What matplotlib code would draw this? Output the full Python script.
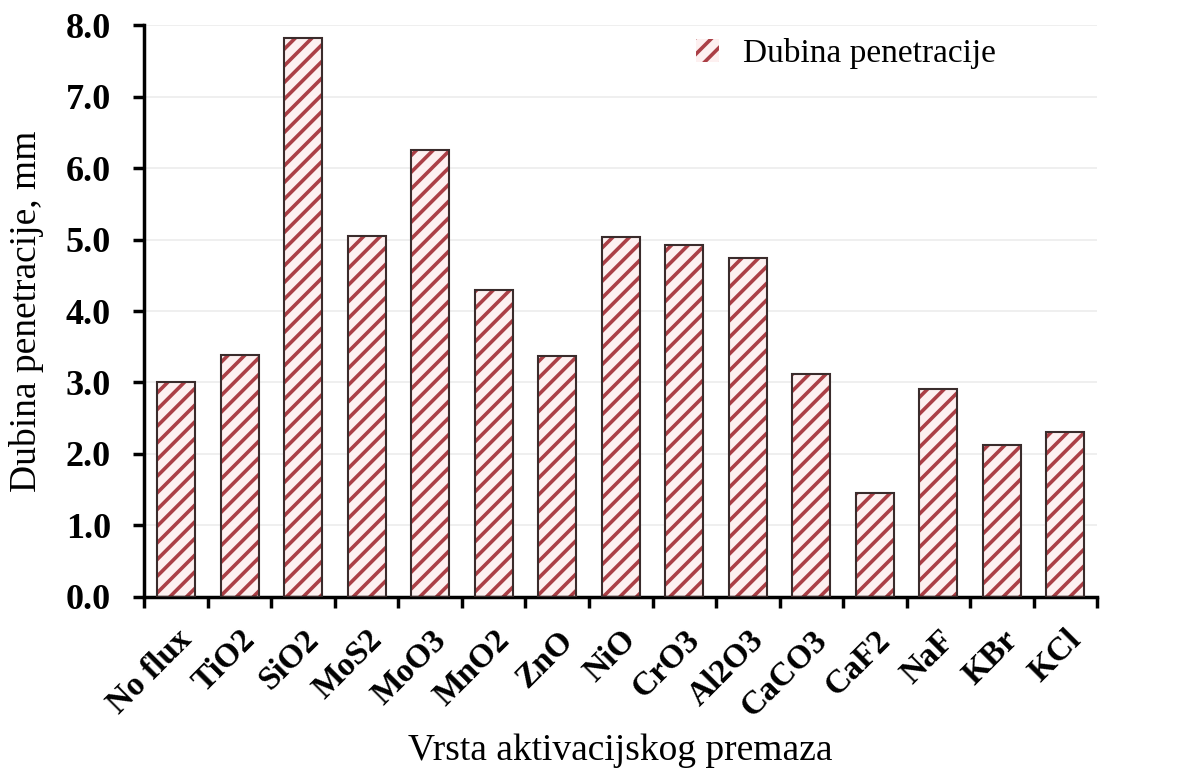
import matplotlib
matplotlib.use('Agg')
import matplotlib.pyplot as plt
from matplotlib.ticker import MultipleLocator, FixedLocator
import numpy as np

categories = ['No flux', 'TiO2', 'SiO2', 'MoS2', 'MoO3', 'MnO2', 'ZnO', 'NiO',
              'CrO3', 'Al2O3', 'CaCO3', 'CaF2', 'NaF', 'KBr', 'KCl']
depth = [3.0, 3.38, 7.82, 5.05, 6.25, 4.29, 3.37, 5.03,
         4.92, 4.74, 3.12, 1.45, 2.91, 2.13, 2.31]

plt.rcParams['font.family'] = ['Liberation Serif', 'DejaVu Serif']
plt.rcParams['hatch.linewidth'] = 2.6

fig = plt.figure(figsize=(12.03, 7.69), dpi=100)
ax = fig.add_axes([0.12, 0.224, 0.792, 0.743])

x = np.arange(len(categories))
ax.bar(x, depth, width=0.6, color='#fdf0f0', edgecolor='#ab3f46',
       hatch='//', linewidth=0, label='Dubina penetracije', zorder=2)
ax.bar(x, depth, width=0.6, fill=False, edgecolor='#3a2c2c', linewidth=1.5, zorder=3)

ax.set_xlim(-0.5, len(categories) - 0.5)
ax.set_ylim(0, 8)
ax.yaxis.set_major_locator(MultipleLocator(1))
ax.set_yticklabels([f'{v:.1f}' for v in ax.get_yticks()], fontsize=26, fontweight='bold')
ax.grid(axis='y', color='#ececec', linewidth=1.2, zorder=0)

ax.set_xticks(x)
ax.set_xticklabels(categories, rotation=45, ha='right', rotation_mode='anchor',
                   fontsize=24, fontweight='bold')
ax.tick_params(axis='x', which='major', length=0, pad=20)
ax.xaxis.set_minor_locator(FixedLocator(np.arange(-0.5, len(categories), 1.0)))
ax.tick_params(axis='x', which='minor', length=8, width=2.5, direction='out')
ax.tick_params(axis='y', length=8, width=2.5, direction='out', pad=16)

for s in ['top', 'right']:
    ax.spines[s].set_visible(False)
for s in ['left', 'bottom']:
    ax.spines[s].set_linewidth(2.5)

ax.set_ylabel('Dubina penetracije, mm', fontsize=27, labelpad=16)
ax.set_xlabel('Vrsta aktivacijskog premaza', fontsize=27, labelpad=8)

leg = ax.legend(loc='upper right', bbox_to_anchor=(0.925, 1.03), frameon=False,
                fontsize=24, handlelength=0.7, handleheight=0.7, handletextpad=0.7)

fig.savefig('out.png', dpi=100, facecolor='white')
